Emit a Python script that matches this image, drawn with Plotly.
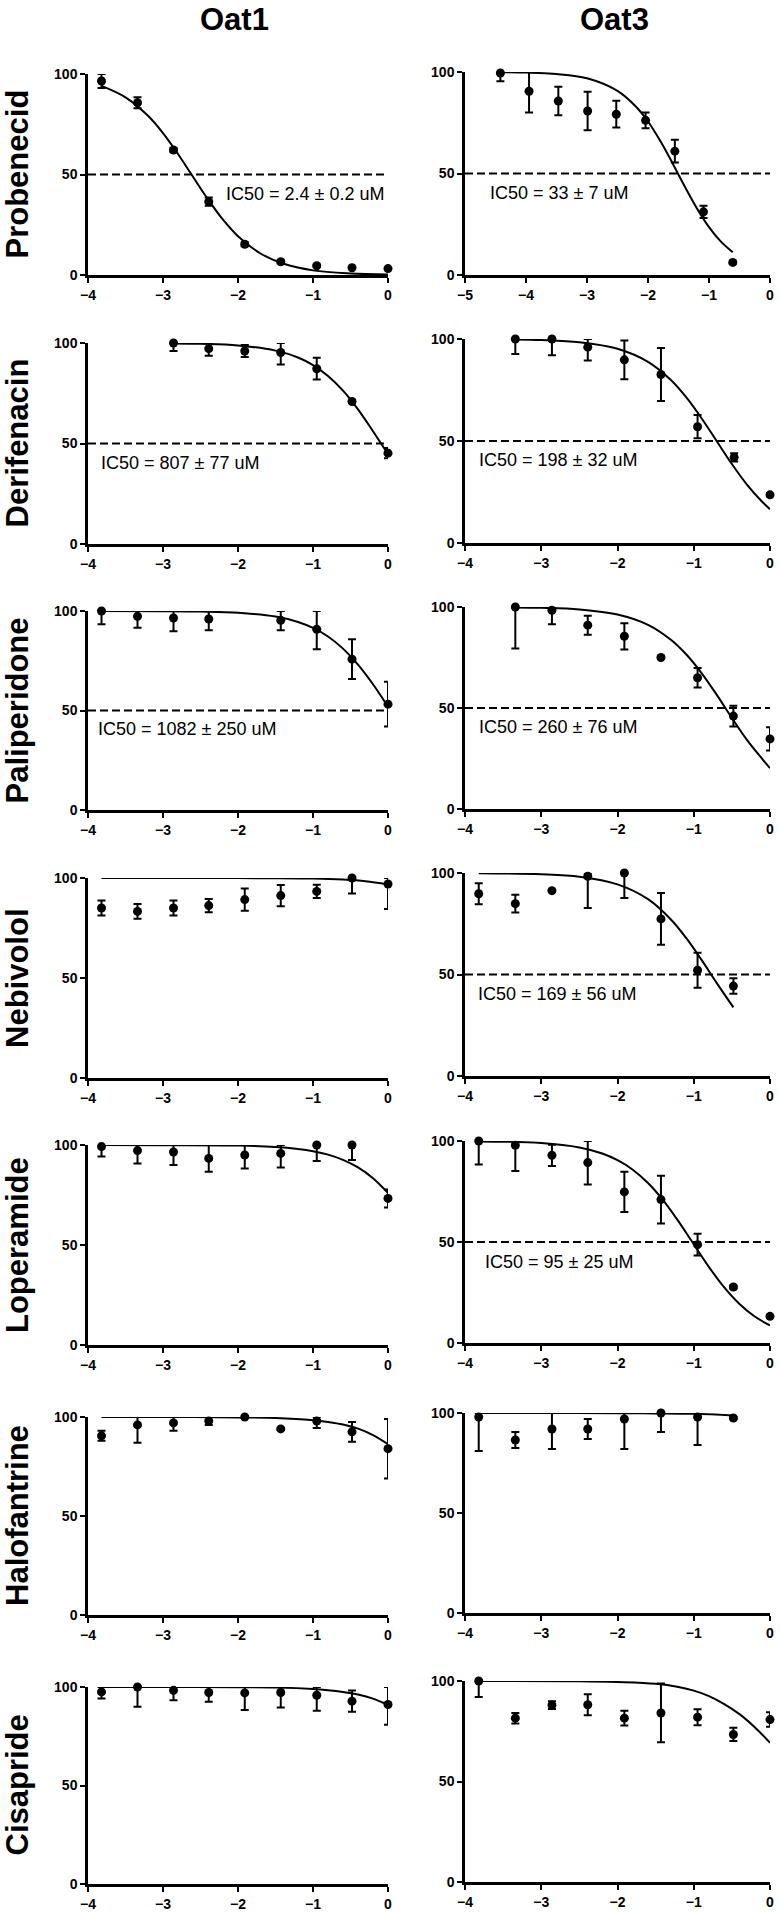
import plotly.graph_objects as go

# ---------------- DATA ----------------
DRUGS = ["Probenecid", "Derifenacin", "Paliperidone", "Nebivolol",
         "Loperamide", "Halofantrine", "Cisapride"]
TRANSPORTERS = ["Oat1", "Oat3"]
HALF_MAX = 50
Y_TICKS = [0, 50, 100]
X_TICKS = [-4, -3, -2, -1, 0]
X_TICKS_WIDE = [-5, -4, -3, -2, -1, 0]

# log10 concentration (mM) of the 3-fold dilution series
LOGC = [-3.82, -3.34, -2.86, -2.39, -1.91, -1.43, -0.95, -0.48, 0.0]

# Probenecid
PROB1_X = LOGC
PROB1_Y = [96.5, 85.7, 62.2, 36.5, 15.3, 6.6, 4.6, 3.6, 3.2]
PROB1_E = [3.5, 2.7, 1.0, 2.0, 1.0, 0.8, 0.5, 0.5, 0.5]
PROB1_FX = [-3.82, -3.5, -3.2, -3.0, -2.8, -2.62, -2.4, -2.2, -2.0, -1.7, -1.4, -1.0, -0.5, 0.0]
PROB1_FY = [94.1, 88.4, 79.2, 70.6, 60.2, 50.0, 37.6, 27.5, 19.3, 10.7, 5.7, 2.3, 0.75, 0.24]

PROB3_X = [-4.42, -3.95, -3.47, -2.99, -2.52, -2.04, -1.56, -1.09, -0.61]
PROB3_Y = [99.5, 90.5, 85.7, 80.8, 79.2, 76.2, 61.0, 31.1, 6.2]
PROB3_E = [4.0, 10.5, 7.0, 9.5, 6.6, 3.9, 5.6, 3.0, 0.5]
PROB3_FX = [-4.42, -4.0, -3.5, -3.0, -2.5, -2.2, -2.0, -1.8, -1.6, -1.51, -1.4, -1.2, -1.0, -0.8, -0.61]
PROB3_FY = [99.9, 99.7, 99.0, 96.9, 90.7, 83.0, 75.6, 66.1, 55.2, 50.0, 43.7, 32.9, 23.6, 16.3, 11.2]

# Derifenacin
DERI1_X = [-2.86, -2.39, -1.91, -1.43, -0.95, -0.48, 0.0]
DERI1_Y = [100.0, 97.2, 96.0, 95.3, 87.2, 70.9, 45.2]
DERI1_E = [4.0, 3.5, 3.0, 6.0, 5.4, 0.8, 2.5]
DERI1_FX = [-2.86, -2.5, -2.0, -1.5, -1.2, -1.0, -0.8, -0.6, -0.4, -0.2, 0.0]
DERI1_FY = [99.8, 99.6, 98.8, 96.2, 92.8, 89.0, 83.6, 76.3, 67.0, 56.1, 44.7]

DERI3_X = [-3.34, -2.86, -2.39, -1.91, -1.43, -0.95, -0.47, 0.0]
DERI3_Y = [100.0, 100.0, 96.0, 89.8, 82.6, 57.0, 42.0, 23.6]
DERI3_E = [7.4, 8.0, 6.5, 9.5, 13.0, 5.7, 2.0, 0.8]
DERI3_FX = [-3.34, -3.0, -2.5, -2.0, -1.6, -1.3, -1.1, -0.9, -0.7, -0.5, -0.3, -0.1, 0.0]
DERI3_FY = [99.8, 99.5, 98.4, 95.2, 88.8, 79.9, 71.5, 61.3, 50.0, 38.7, 28.5, 20.1, 16.6]

# Paliperidone
PALI1_X = [-3.82, -3.34, -2.86, -2.39, -1.43, -0.95, -0.48, 0.0]
PALI1_Y = [100.0, 97.3, 96.5, 96.0, 95.3, 90.8, 75.8, 53.2]
PALI1_E = [6.7, 5.7, 6.7, 5.7, 5.0, 10.0, 10.0, 11.3]
PALI1_FX = [-3.82, -3.0, -2.5, -2.0, -1.5, -1.2, -1.0, -0.8, -0.6, -0.4, -0.2, 0.0]
PALI1_FY = [100.0, 99.9, 99.7, 99.1, 97.2, 94.5, 91.5, 87.2, 81.1, 73.1, 63.2, 51.9]

PALI3_X = [-3.34, -2.86, -2.39, -1.91, -1.43, -0.95, -0.48, 0.0]
PALI3_Y = [100.0, 98.4, 91.0, 85.5, 75.0, 65.0, 46.0, 34.7]
PALI3_E = [20.5, 7.0, 4.7, 6.5, 0.5, 4.8, 5.1, 5.8]
PALI3_FX = [-3.34, -3.0, -2.5, -2.0, -1.6, -1.3, -1.1, -0.9, -0.7, -0.5, -0.3, -0.1, 0.0]
PALI3_FY = [99.8, 99.6, 98.8, 96.3, 91.2, 83.8, 76.6, 67.4, 56.6, 45.1, 34.1, 24.7, 20.2]

# Nebivolol
NEBI1_X = LOGC
NEBI1_Y = [85.0, 83.3, 85.0, 86.2, 89.2, 91.2, 93.3, 100.0, 97.0]
NEBI1_E = [3.7, 3.7, 3.7, 3.3, 5.6, 5.3, 3.3, 7.8, 12.5]
NEBI1_FX = [-3.82, -3.0, -2.0, -1.5, -1.0, -0.6, -0.3, 0.0]
NEBI1_FY = [100.0, 100.0, 99.95, 99.9, 99.7, 99.2, 98.4, 96.8]

NEBI3_X = [-3.82, -3.34, -2.86, -2.39, -1.91, -1.43, -0.95, -0.48]
NEBI3_Y = [89.8, 84.9, 91.3, 98.4, 100.0, 77.4, 52.1, 44.3]
NEBI3_E = [5.2, 4.4, 0.5, 15.6, 12.3, 12.7, 8.6, 3.8]
NEBI3_FX = [-3.82, -3.0, -2.5, -2.0, -1.6, -1.3, -1.1, -0.9, -0.7, -0.48]
NEBI3_FY = [99.9, 99.4, 98.2, 94.4, 87.1, 77.1, 68.0, 57.3, 45.9, 33.8]

# Loperamide
LOPE1_X = LOGC
LOPE1_Y = [99.2, 97.2, 96.5, 93.3, 95.0, 95.8, 100.0, 100.0, 73.3]
LOPE1_E = [5.0, 6.4, 6.5, 6.7, 6.7, 7.0, 8.0, 7.5, 4.5]
LOPE1_FX = [-3.82, -3.0, -2.0, -1.5, -1.2, -1.0, -0.8, -0.6, -0.4, -0.2, 0.0]
LOPE1_FY = [100.0, 99.9, 99.7, 99.0, 98.0, 96.9, 95.2, 92.6, 88.8, 83.4, 76.0]

LOPE3_X = LOGC
LOPE3_Y = [100.0, 97.9, 92.9, 89.3, 74.8, 71.0, 48.7, 27.7, 13.2]
LOPE3_E = [11.6, 12.8, 5.3, 10.8, 10.0, 11.8, 5.4, 0.8, 0.8]
LOPE3_FX = [-3.82, -3.0, -2.5, -2.2, -2.0, -1.8, -1.6, -1.4, -1.2, -1.02, -0.8, -0.6, -0.4, -0.2, 0.0]
LOPE3_FY = [99.8, 99.0, 96.8, 93.8, 90.5, 85.8, 79.2, 70.6, 60.2, 50.0, 37.6, 27.5, 19.3, 13.1, 8.7]

# Halofantrine
HALO1_X = LOGC
HALO1_Y = [90.5, 96.0, 97.0, 98.0, 100.0, 94.0, 98.0, 92.5, 84.0]
HALO1_E = [2.5, 9.0, 4.0, 2.0, 0.5, 0.5, 3.5, 5.0, 15.0]
HALO1_FX = [-3.82, -3.0, -2.0, -1.5, -1.0, -0.8, -0.6, -0.4, -0.2, 0.0]
HALO1_FY = [100.0, 100.0, 99.8, 99.5, 98.4, 97.5, 96.2, 94.1, 90.9, 86.3]

HALO3_X = [-3.82, -3.34, -2.86, -2.39, -1.91, -1.43, -0.95, -0.48]
HALO3_Y = [98.0, 86.5, 92.0, 92.0, 97.0, 100.0, 98.0, 97.5]
HALO3_E = [17.0, 4.0, 10.0, 5.0, 15.0, 9.5, 14.0, 0.5]
HALO3_FX = [-3.82, -3.0, -2.0, -1.5, -1.0, -0.48]
HALO3_FY = [100.0, 100.0, 99.9, 99.8, 99.6, 98.8]

# Cisapride
CISA1_X = LOGC
CISA1_Y = [97.5, 100.0, 98.3, 97.2, 97.0, 97.2, 95.8, 92.8, 91.1]
CISA1_E = [3.3, 10.0, 5.0, 4.7, 8.7, 7.6, 7.8, 5.4, 10.3]
CISA1_FX = [-3.82, -3.0, -2.0, -1.5, -1.0, -0.8, -0.6, -0.4, -0.2, 0.0]
CISA1_FY = [100.0, 100.0, 99.9, 99.7, 99.0, 98.4, 97.5, 96.2, 94.1, 90.9]

CISA3_X = LOGC
CISA3_Y = [100.0, 81.5, 88.0, 88.2, 81.5, 84.1, 82.0, 73.4, 80.8]
CISA3_E = [8.0, 2.6, 1.9, 5.2, 3.7, 14.6, 4.0, 3.3, 3.6]
CISA3_FX = [-3.82, -2.5, -2.0, -1.5, -1.2, -1.0, -0.8, -0.6, -0.4, -0.2, 0.0]
CISA3_FY = [100.0, 99.9, 99.5, 98.6, 97.0, 95.2, 92.5, 88.5, 83.5, 77.0, 69.3]

IC50_TEXT = {
    ("Probenecid", "Oat1"): "IC50 = 2.4 \u00b1 0.2 uM",
    ("Probenecid", "Oat3"): "IC50 = 33 \u00b1 7 uM",
    ("Derifenacin", "Oat1"): "IC50 = 807 \u00b1 77 uM",
    ("Derifenacin", "Oat3"): "IC50 = 198 \u00b1 32 uM",
    ("Paliperidone", "Oat1"): "IC50 = 1082 \u00b1 250 uM",
    ("Paliperidone", "Oat3"): "IC50 = 260 \u00b1 76 uM",
    ("Nebivolol", "Oat3"): "IC50 = 169 \u00b1 56 uM",
    ("Loperamide", "Oat3"): "IC50 = 95 \u00b1 25 uM",
}

PANEL_DATA = {
    ("Probenecid", "Oat1"): (PROB1_X, PROB1_Y, PROB1_E, PROB1_FX, PROB1_FY),
    ("Probenecid", "Oat3"): (PROB3_X, PROB3_Y, PROB3_E, PROB3_FX, PROB3_FY),
    ("Derifenacin", "Oat1"): (DERI1_X, DERI1_Y, DERI1_E, DERI1_FX, DERI1_FY),
    ("Derifenacin", "Oat3"): (DERI3_X, DERI3_Y, DERI3_E, DERI3_FX, DERI3_FY),
    ("Paliperidone", "Oat1"): (PALI1_X, PALI1_Y, PALI1_E, PALI1_FX, PALI1_FY),
    ("Paliperidone", "Oat3"): (PALI3_X, PALI3_Y, PALI3_E, PALI3_FX, PALI3_FY),
    ("Nebivolol", "Oat1"): (NEBI1_X, NEBI1_Y, NEBI1_E, NEBI1_FX, NEBI1_FY),
    ("Nebivolol", "Oat3"): (NEBI3_X, NEBI3_Y, NEBI3_E, NEBI3_FX, NEBI3_FY),
    ("Loperamide", "Oat1"): (LOPE1_X, LOPE1_Y, LOPE1_E, LOPE1_FX, LOPE1_FY),
    ("Loperamide", "Oat3"): (LOPE3_X, LOPE3_Y, LOPE3_E, LOPE3_FX, LOPE3_FY),
    ("Halofantrine", "Oat1"): (HALO1_X, HALO1_Y, HALO1_E, HALO1_FX, HALO1_FY),
    ("Halofantrine", "Oat3"): (HALO3_X, HALO3_Y, HALO3_E, HALO3_FX, HALO3_FY),
    ("Cisapride", "Oat1"): (CISA1_X, CISA1_Y, CISA1_E, CISA1_FX, CISA1_FY),
    ("Cisapride", "Oat3"): (CISA3_X, CISA3_Y, CISA3_E, CISA3_FX, CISA3_FY),
}

# ---------------- LAYOUT (pixel geometry, window coordinates) ----------------
W, H = 780, 1912
FONT = "Liberation Sans, Arial, Helvetica, sans-serif"
COL_X_PX = {"Oat1": (88, 388), "Oat3": (465, 770)}
ROW_Y_PX = {
    "Oat1": [(74, 275), (343, 544), (611, 810), (878, 1078), (1145, 1345), (1417, 1615), (1687, 1884)],
    "Oat3": [(72, 275), (339, 543), (607, 809), (873, 1076), (1141, 1343), (1413, 1613), (1681, 1882)],
}
IC50_POS = {
    ("Probenecid", "Oat1"): (-2.19, 40.5),
    ("Probenecid", "Oat3"): (-4.62, 40.5),
    ("Derifenacin", "Oat1"): (-3.85, 40.5),
    ("Derifenacin", "Oat3"): (-3.84, 40.5),
    ("Paliperidone", "Oat1"): (-3.89, 40.5),
    ("Paliperidone", "Oat3"): (-3.84, 40.5),
    ("Nebivolol", "Oat3"): (-3.85, 40.5),
    ("Loperamide", "Oat3"): (-3.76, 40.0),
}


def fx(px):
    return px / W


def fy(py):
    return 1 - py / H


fig = go.Figure()
annotations = []
layout_axes = {}

idx = 0
for r, drug in enumerate(DRUGS):
    for tr in TRANSPORTERS:
        idx += 1
        xs = "" if idx == 1 else str(idx)
        xref, yref = "x" + xs, "y" + xs
        key = (drug, tr)
        X, Y, E, FX, FY = PANEL_DATA[key]
        wide = key == ("Probenecid", "Oat3")
        xticks = X_TICKS_WIDE if wide else X_TICKS
        xmin, xmax = xticks[0], xticks[-1]

        x0p, x1p = COL_X_PX[tr]
        y0p, y1p = ROW_Y_PX[tr][r]
        axis_common = dict(
            showline=True, linewidth=2.5, linecolor="black",
            ticks="outside", ticklen=5, tickwidth=2, tickcolor="black",
            showgrid=False, zeroline=False, fixedrange=True, automargin=False,
            tickfont=dict(family=FONT, size=14, color="black", weight="bold"),
        )
        layout_axes["xaxis" + xs] = dict(
            domain=[fx(x0p), fx(x1p)], anchor=yref, range=[xmin, xmax],
            tickmode="array", tickvals=xticks, ticklabelstandoff=0, **axis_common)
        layout_axes["yaxis" + xs] = dict(
            domain=[fy(y1p), fy(y0p)], anchor=xref, range=[0, 100],
            tickmode="array", tickvals=Y_TICKS, ticklabelstandoff=0, **axis_common)

        if key in IC50_TEXT:
            fig.add_trace(go.Scatter(
                x=[xmin, xmax], y=[HALF_MAX, HALF_MAX], xaxis=xref, yaxis=yref,
                mode="lines", line=dict(color="black", width=2, dash="8px,4px"),
                hoverinfo="skip", showlegend=False, cliponaxis=False))
            ax, ay = IC50_POS[key]
            annotations.append(dict(
                x=ax, y=ay, xref=xref, yref=yref, text=IC50_TEXT[key],
                showarrow=False, xanchor="left", yanchor="middle",
                font=dict(family=FONT, size=18, color="black")))

        fig.add_trace(go.Scatter(
            x=FX, y=FY, xaxis=xref, yaxis=yref, mode="lines",
            line=dict(color="black", width=2, shape="spline", smoothing=1.0),
            hoverinfo="skip", showlegend=False, cliponaxis=False))

        plus = [min(e, 100 - y) for y, e in zip(Y, E)]
        fig.add_trace(go.Scatter(
            x=X, y=Y, xaxis=xref, yaxis=yref, mode="markers",
            marker=dict(color="black", size=9),
            error_y=dict(type="data", symmetric=False, array=plus, arrayminus=E,
                         color="black", thickness=2, width=4),
            showlegend=False, cliponaxis=False))

# Row labels (drug names)
for r, drug in enumerate(DRUGS):
    y0p, y1p = ROW_Y_PX["Oat1"][r]
    annotations.append(dict(
        x=fx(17), y=fy((y0p + y1p) / 2), xref="paper", yref="paper",
        text=drug, textangle=-90, showarrow=False,
        xanchor="center", yanchor="middle",
        font=dict(family=FONT, size=31, color="black", weight="bold")))

# Column titles
for tr, cx in zip(TRANSPORTERS, [234, 614]):
    annotations.append(dict(
        x=fx(cx), y=fy(19), xref="paper", yref="paper",
        text=tr, showarrow=False, xanchor="center", yanchor="middle",
        font=dict(family=FONT, size=31, color="black", weight="bold")))

fig.update_layout(
    template="none",
    width=W, height=H, margin=dict(l=0, r=0, t=0, b=0, autoexpand=False),
    paper_bgcolor="white", plot_bgcolor="white", hovermode=False,
    showlegend=False, annotations=annotations, **layout_axes)

# remove the default 8px page margin so the figure fills the 780x1912 window
fig.write_html("out.html", config={"displayModeBar": False},
               post_script="document.body.style.margin='0px';")
